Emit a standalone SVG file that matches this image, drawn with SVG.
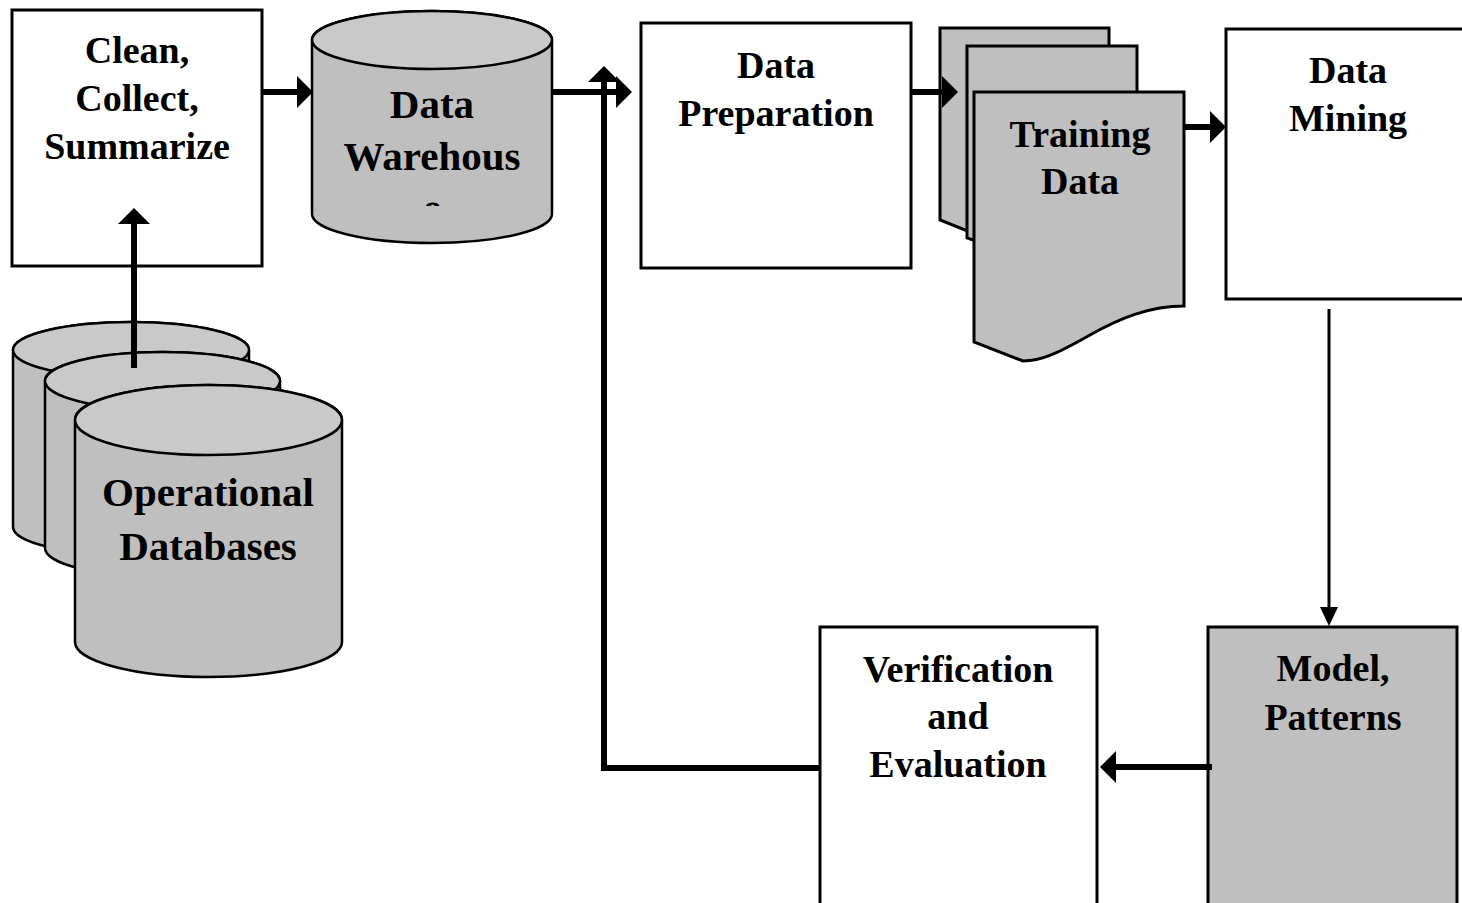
<svg xmlns="http://www.w3.org/2000/svg" width="1462" height="903" viewBox="0 0 1462 903">
  <style>
    .box { fill: #ffffff; stroke: #000; stroke-width: 3; }
    .gbox { fill: #bfbfbf; stroke: #000; stroke-width: 3; }
    .body { fill: #bfbfbf; stroke: #000; stroke-width: 2.5; }
    .lid { fill: #c9c9c9; stroke: #000; stroke-width: 2.5; }
    .lbl { font-family: "Liberation Serif", "Times New Roman", serif; font-weight: bold; font-size: 38px; fill: #000; text-anchor: middle; }
    .big { font-size: 41px; }
    .thick { fill: none; stroke: #000; stroke-width: 6; }
    .thin { fill: none; stroke: #000; stroke-width: 3; }
  </style>
  <defs>
    <marker id="head" markerUnits="userSpaceOnUse" markerWidth="18" markerHeight="34" refX="0" refY="16" orient="auto" overflow="visible">
      <path d="M0,0 L16,16 L0,32 Z" fill="#000"/>
    </marker>
    <marker id="headSmall" markerUnits="userSpaceOnUse" markerWidth="20" markerHeight="20" refX="0" refY="9" orient="auto" overflow="visible">
      <path d="M0,0 L19,9 L0,18 Z" fill="#000"/>
    </marker>
    <clipPath id="dwClip">
      <rect x="312" y="60" width="240" height="146"/>
    </clipPath>
  </defs>

  <!-- Operational databases: three stacked cylinders -->
  <g id="operational-databases">
    <path class="body" d="M13,350 V527 A118,28 0 0 0 249,527 V350 A118,28 0 0 0 13,350 Z"/>
    <ellipse class="lid" cx="131" cy="350" rx="118" ry="28"/>
    <path class="body" d="M45,381 V548 A117.5,29 0 0 0 280,548 V381 A117.5,29 0 0 0 45,381 Z"/>
    <ellipse class="lid" cx="162.5" cy="381" rx="117.5" ry="29"/>
    <path class="body" d="M75,420 V642 A133.5,35 0 0 0 342,642 V420 A133.5,35 0 0 0 75,420 Z"/>
    <ellipse class="lid" cx="208.5" cy="420" rx="133.5" ry="35"/>
    <text class="lbl big" x="208" y="506">Operational</text>
    <text class="lbl big" x="208" y="560">Databases</text>
  </g>

  <g id="clean-collect-summarize">
    <rect class="box" x="12" y="10" width="250" height="256"/>
    <text class="lbl" x="137" y="63">Clean,</text>
    <text class="lbl" x="137" y="111">Collect,</text>
    <text class="lbl" x="137" y="159">Summarize</text>
  </g>

  <g id="data-warehouse">
    <path class="body" d="M312,40 V214 A120,29 0 0 0 552,214 V40 A120,29 0 0 0 312,40 Z"/>
    <ellipse class="lid" cx="432" cy="40" rx="120" ry="29"/>
    <g clip-path="url(#dwClip)">
      <text class="lbl big" x="432" y="118">Data</text>
      <text class="lbl big" x="432" y="170">Warehous</text>
      <text class="lbl big" x="432" y="222">e</text>
    </g>
  </g>

  <g id="data-preparation">
    <rect class="box" x="641" y="23" width="270" height="245"/>
    <text class="lbl" x="776" y="78">Data</text>
    <text class="lbl" x="776" y="126">Preparation</text>
  </g>

  <!-- Training data: stacked document pages with wavy lower edges -->
  <g id="training-data">
    <path class="gbox" d="M940,28 H1109 V190 C1080,190 1055,200 1030,215 C1010,228 995,236 980,236 L940,220 Z"/>
    <path class="gbox" d="M967,46 H1137 V205 C1108,205 1083,216 1058,231 C1038,244 1023,252 1008,252 L967,238 Z"/>
    <path class="gbox" d="M974,92 H1184 V306 C1150,306 1120,318 1090,335 C1060,352 1042,361 1023,361 L974,342 Z"/>
    <text class="lbl" x="1080" y="147">Training</text>
    <text class="lbl" x="1080" y="194">Data</text>
  </g>

  <g id="data-mining">
    <rect class="box" x="1226" y="29" width="250" height="270"/>
    <text class="lbl" x="1348" y="83">Data</text>
    <text class="lbl" x="1348" y="131">Mining</text>
  </g>

  <g id="model-patterns">
    <rect class="gbox" x="1208" y="627" width="249" height="290"/>
    <text class="lbl" x="1333" y="681">Model,</text>
    <text class="lbl" x="1333" y="730">Patterns</text>
  </g>

  <g id="verification-evaluation">
    <rect class="box" x="820" y="627" width="277" height="290"/>
    <text class="lbl" x="958" y="682">Verification</text>
    <text class="lbl" x="958" y="729">and</text>
    <text class="lbl" x="958" y="777">Evaluation</text>
  </g>

  <g id="connectors">
    <path class="thick" d="M134,368 V224" marker-end="url(#head)"/>
    <path class="thick" d="M262,92 H297" marker-end="url(#head)"/>
    <path class="thick" d="M552,92 H616" marker-end="url(#head)"/>
    <path class="thick" d="M820,768 H604 V82" marker-end="url(#head)"/>
    <path class="thick" d="M911,92 H942" marker-end="url(#head)"/>
    <path class="thick" d="M1184,127 H1210" marker-end="url(#head)"/>
    <path class="thin" d="M1329,309 V607" marker-end="url(#headSmall)"/>
    <path class="thick" d="M1212,767 H1116" marker-end="url(#head)"/>
  </g>
</svg>
